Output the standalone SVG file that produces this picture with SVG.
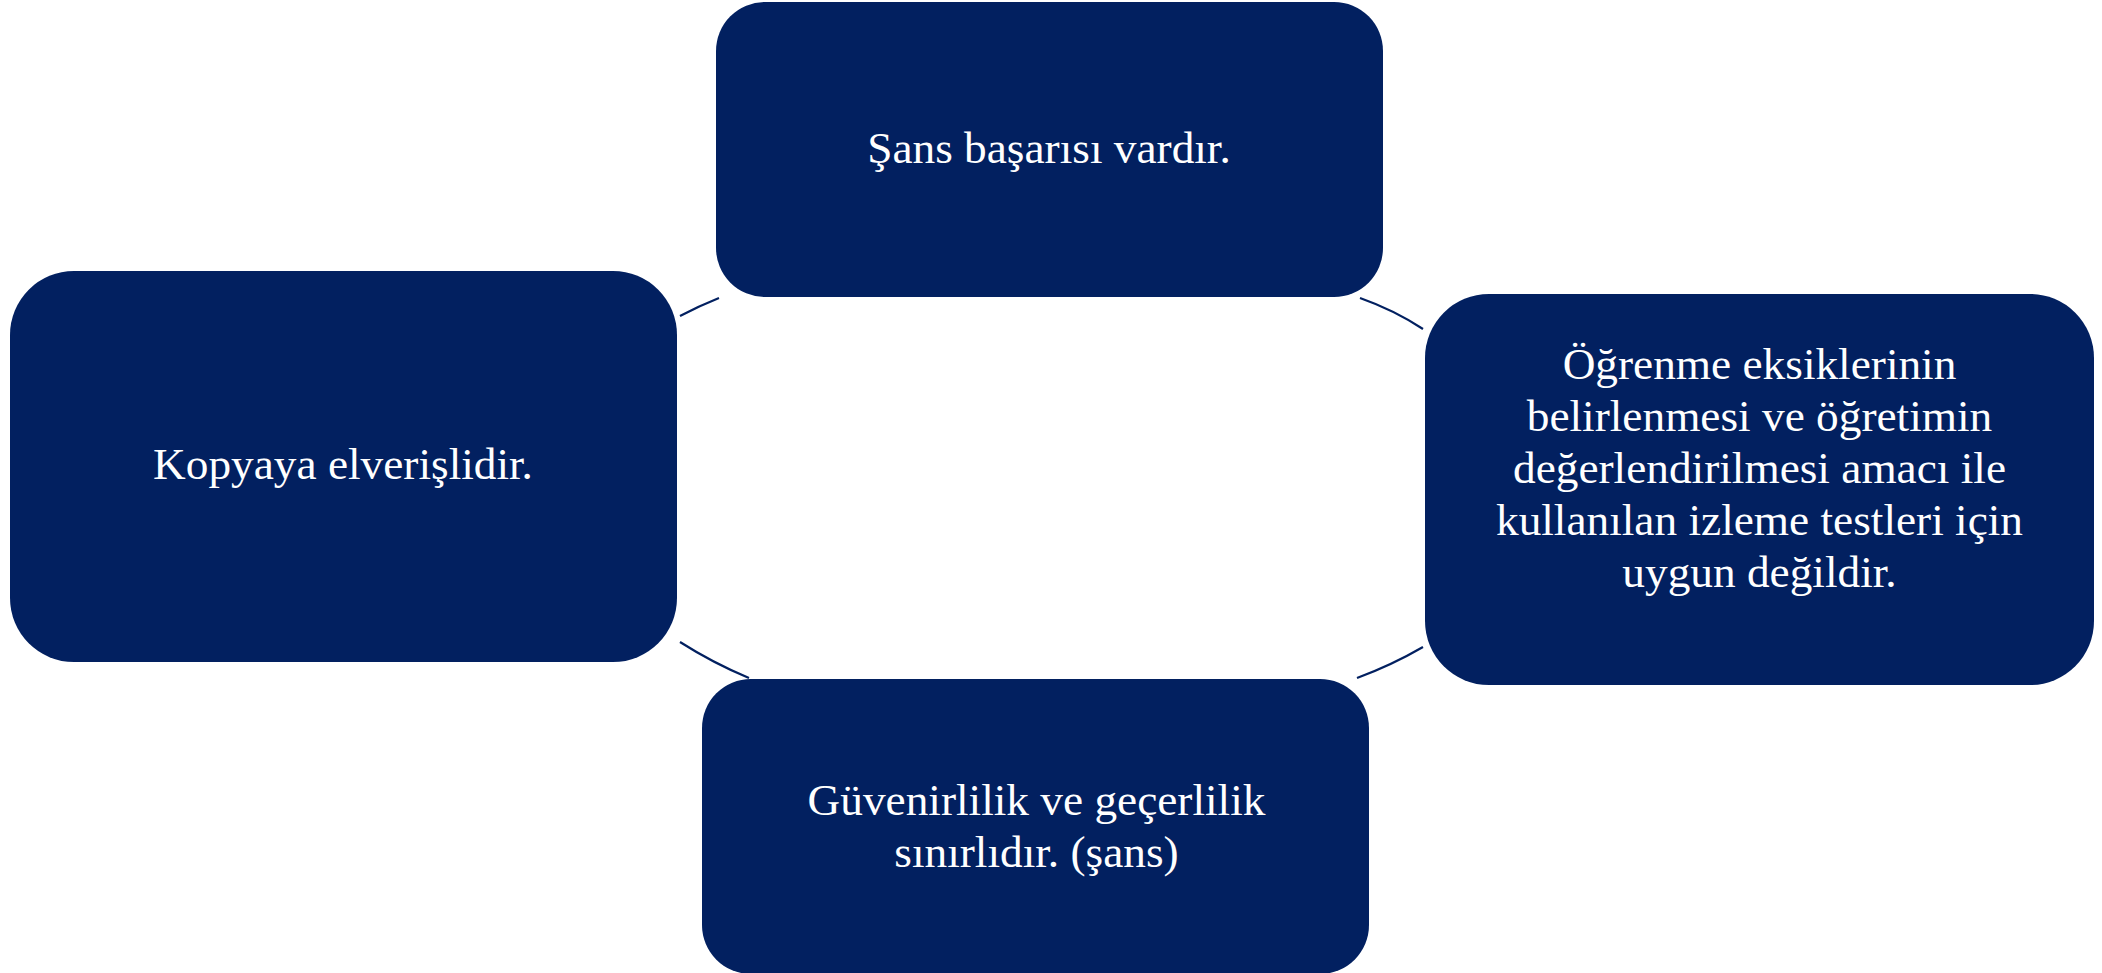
<svg xmlns="http://www.w3.org/2000/svg" width="2102" height="973" viewBox="0 0 2102 973">
<style>
.box{fill:#022060}
.t{fill:#ffffff;font-family:"Liberation Serif","Times New Roman",serif;font-size:45.3px;text-anchor:middle}
.c{fill:none;stroke:#022060;stroke-width:2.2}
</style>
<rect width="2102" height="973" fill="#ffffff"/>
<g id="connectors">
<path class="c" d="M680,316 Q699,306 719,298"/>
<path class="c" d="M1360,298 Q1394,310 1423,329"/>
<path class="c" d="M1357,678 Q1392,665 1423,647"/>
<path class="c" d="M680,642 Q713,663 749,678"/>
</g>
<g id="node-top">
<rect class="box" x="716" y="2" width="667" height="295" rx="49"/>
<text class="t" x="1049" y="163">Şans başarısı vardır.</text>
</g>
<g id="node-right">
<rect class="box" x="1425" y="294" width="669" height="391" rx="64"/>
<text class="t" x="1759.5" y="379">Öğrenme eksiklerinin</text>
<text class="t" x="1759.5" y="431">belirlenmesi ve öğretimin</text>
<text class="t" x="1759.5" y="483">değerlendirilmesi amacı ile</text>
<text class="t" x="1759.5" y="535">kullanılan izleme testleri için</text>
<text class="t" x="1759.5" y="587">uygun değildir.</text>
</g>
<g id="node-bottom">
<rect class="box" x="702" y="679" width="667" height="295" rx="49"/>
<text class="t" x="1036.5" y="815">Güvenirlilik ve geçerlilik</text>
<text class="t" x="1036.5" y="867">sınırlıdır. (şans)</text>
</g>
<g id="node-left">
<rect class="box" x="10" y="271" width="667" height="391" rx="64"/>
<text class="t" x="343" y="479">Kopyaya elverişlidir.</text>
</g>
</svg>
